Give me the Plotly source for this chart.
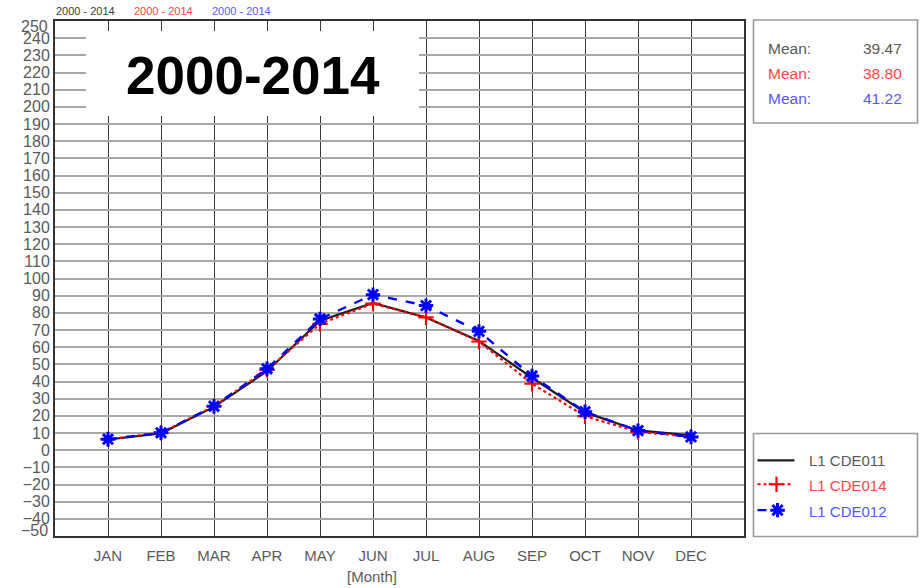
import numpy as np
import plotly.graph_objects as go

# Monthly climatology, 2000-2014
months = ["JAN", "FEB", "MAR", "APR", "MAY", "JUN", "JUL", "AUG", "SEP", "OCT", "NOV", "DEC"]
cde011 = [6.2, 9.8, 25.2, 46.0, 75.4, 85.8, 77.3, 63.6, 42.2, 22.0, 11.5, 8.64]
cde014 = [6.4, 10.1, 25.6, 46.8, 73.6, 85.4, 77.4, 63.3, 38.7, 19.8, 10.7, 7.8]
cde012 = [6.4, 10.1, 25.6, 47.4, 76.4, 90.6, 84.2, 69.2, 43.2, 22.4, 11.4, 7.74]
series_names = ["L1 CDE011", "L1 CDE014", "L1 CDE012"]
period = "2000 - 2014"
title_text = "2000-2014"

y_ticks = list(range(-40, 250, 10))

# pixel geometry of the page
W, H = 922, 588
ML, MR, MT, MB = 55, 4, 21, 52
PW = W - ML - MR
PH = H - MT - MB
MAIN_RIGHT = 744


def px(x):
    return (x - ML) / PW


def py(y):
    return (H - MB - y) / PH


def clamp(v):
    return min(1.0, max(0.0, v))


GRAY_TXT = "#5a5a5a"
RED_TXT = "#ff4545"
BLUE_TXT = "#5858ff"
FONT = "Liberation Sans, Arial, sans-serif"

RED_MARK = dict(symbol="cross-thin-open", size=11, color="#ff0000",
                line=dict(color="#ff0000", width=2.2))
BLUE_MARK = dict(symbol="asterisk-open", size=12, color="#0000ff",
                 line=dict(color="#0000ff", width=3))

x_idx = np.arange(1, len(months) + 1)

fig = go.Figure()
fig.add_trace(go.Scatter(
    x=x_idx, y=cde011, mode="lines", name=series_names[0],
    line=dict(color="#1e1e1e", width=2.2),
))
fig.add_trace(go.Scatter(
    x=x_idx, y=cde014, mode="lines+markers", name=series_names[1],
    line=dict(color="#ff0000", width=2.2, dash="dot"), marker=RED_MARK,
))
fig.add_trace(go.Scatter(
    x=x_idx, y=cde012, mode="lines+markers", name=series_names[2],
    line=dict(color="#0000ff", width=2.4, dash="dash"), marker=BLUE_MARK,
))

# legend glyphs drawn on a small auxiliary axis inside the lower box
leg_x = [[4, 41], [4, 40], [4, 40]]
leg_y = [27, 51, 77]
fig.add_trace(go.Scatter(
    x=leg_x[0], y=[leg_y[0]] * 2, mode="lines", xaxis="x2", yaxis="y2",
    line=dict(color="#1e1e1e", width=2.4), showlegend=False, hoverinfo="skip",
))
fig.add_trace(go.Scatter(
    x=leg_x[1], y=[leg_y[1]] * 2, mode="lines", xaxis="x2", yaxis="y2",
    line=dict(color="#ff0000", width=2.2, dash="dot"), showlegend=False, hoverinfo="skip",
))
fig.add_trace(go.Scatter(
    x=[23], y=[leg_y[1]], mode="markers", xaxis="x2", yaxis="y2",
    marker=RED_MARK, showlegend=False, hoverinfo="skip",
))
fig.add_trace(go.Scatter(
    x=leg_x[2], y=[leg_y[2]] * 2, mode="lines", xaxis="x2", yaxis="y2",
    line=dict(color="#0000ff", width=2.4, dash="dash"), showlegend=False, hoverinfo="skip",
))
fig.add_trace(go.Scatter(
    x=[24], y=[leg_y[2]], mode="markers", xaxis="x2", yaxis="y2",
    marker=BLUE_MARK, showlegend=False, hoverinfo="skip",
))

shapes = [
    # white title panel over the upper grid
    dict(type="rect", xref="paper", yref="paper", x0=px(86), x1=px(419), y0=py(116), y1=py(31),
         fillcolor="white", line=dict(width=0), layer="above"),
    # upper statistics box
    dict(type="rect", xref="paper", yref="paper", x0=px(753.5), x1=px(917.5), y0=py(123), y1=py(20),
         fillcolor="rgba(0,0,0,0)", line=dict(color="#9a9a9a", width=1.6)),
    # lower legend box
    dict(type="rect", xref="paper", yref="paper", x0=px(753.5), x1=px(917.5), y0=py(536.5), y1=py(433.5),
         fillcolor="rgba(0,0,0,0)", line=dict(color="#9a9a9a", width=1.6)),
]

annotations = []


def note(text, x, y, color, size, xanchor="left", bold=False, font=FONT):
    annotations.append(dict(
        text=f"<b>{text}</b>" if bold else text, xref="paper", yref="paper",
        x=px(x), y=py(y), xanchor=xanchor, yanchor="middle", showarrow=False,
        font=dict(family=font, size=size, color=color),
    ))


# period header along the top
note(period, 54, 11, "#404040", 11)
note(period, 132, 11, RED_TXT, 11)
note(period, 210, 11, BLUE_TXT, 11)

# big title in the panel
note(title_text, 253, 76, "black", 53, xanchor="center", bold=True)

# means
means = [np.mean(cde011), np.mean(cde014), np.mean(cde012)]
colors_txt = [GRAY_TXT, RED_TXT, BLUE_TXT]
for i, (m, c) in enumerate(zip(means, colors_txt)):
    yy = 48 + i * 25.5
    note("Mean:", 766, yy, c, 15.5)
    note(f"{m:.2f}", 904, yy, c, 15.5, xanchor="right")

# legend labels
for i, (name, c) in enumerate(zip(series_names, colors_txt)):
    note(name, 807, 460 + i * 25.5, c, 15)

# axis end labels, nudged inside the frame
note("250", 50, 27, GRAY_TXT, 16, xanchor="right")
note("\u221250", 50, 530, GRAY_TXT, 16, xanchor="right")

# axis title
note("[Month]", 372, 576, GRAY_TXT, 15, xanchor="center")

fig.update_layout(
    width=W, height=H,
    margin=dict(l=ML, r=MR, t=MT, b=MB),
    paper_bgcolor="white", plot_bgcolor="white",
    showlegend=False,
    shapes=shapes,
    annotations=annotations,
    xaxis=dict(
        domain=[0, clamp(px(MAIN_RIGHT))], range=[0, 13],
        tickvals=list(x_idx), ticktext=months, ticks="", ticklabelstandoff=5,
        tickfont=dict(family=FONT, size=15, color=GRAY_TXT),
        showgrid=True, gridcolor="#3a3a3a", gridwidth=1.3,
        showline=True, mirror=True, linecolor="#333333", linewidth=2,
        zeroline=False, fixedrange=True,
    ),
    yaxis=dict(
        range=[-50, 250],
        tickvals=y_ticks, ticktext=[str(v).replace("-", "\u2212") for v in y_ticks],
        ticks="", tickfont=dict(family=FONT, size=16, color=GRAY_TXT),
        showgrid=True, gridcolor="#a8a8a8", gridwidth=1.5,
        showline=True, mirror=True, linecolor="#333333", linewidth=2,
        zeroline=False, fixedrange=True,
    ),
    xaxis2=dict(
        domain=[clamp(px(753.5)), clamp(px(917.5))], range=[0, 164], anchor="y2",
        visible=False, fixedrange=True,
    ),
    yaxis2=dict(
        domain=[clamp(py(536.5)), clamp(py(433.5))], range=[103, 0], anchor="x2",
        visible=False, fixedrange=True,
    ),
)

fig.write_html("out.html")
